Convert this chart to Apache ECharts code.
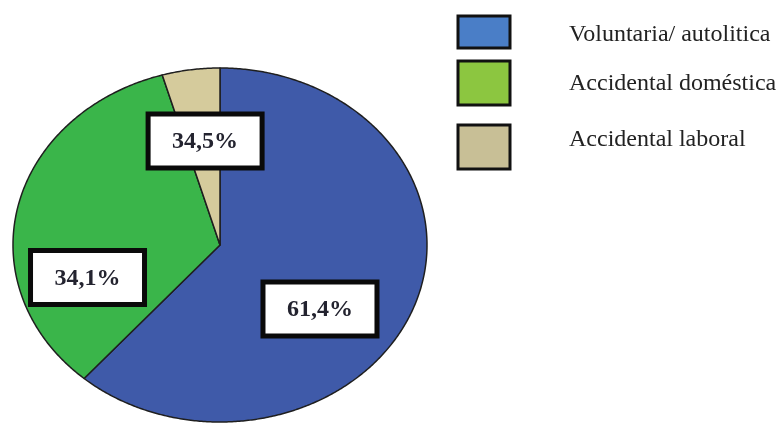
<!DOCTYPE html>
<html><head><meta charset="utf-8">
<script src="https://cdn.jsdelivr.net/npm/echarts@6/dist/echarts.min.js"></script>
<style>html,body{margin:0;padding:0;background:#fff}#c{width:777px;height:423px}</style>
</head><body><div id="c"></div>
<script>
const categories = ['Voluntaria/ autolitica', 'Accidental doméstica', 'Accidental laboral'];
const values = [61.4, 34.1, 4.5];
const labelTexts = ['61,4%', '34,1%', '34,5%'];

const sliceColors = ['#3f5aa9', '#3ab54a', '#d5cb9c'];
const legendColors = ['#4a7ec7', '#8cc640', '#c8bf96'];
// label anchor positions in the pie's unit data space (layout only)
const labelAnchors = [[0.483, -0.362], [-0.640, -0.184], [-0.072, 0.588]];

const total = values.reduce((a, b) => a + b, 0);
const starts = [];
let acc = 0;
values.forEach(v => { starts.push(acc); acc += v; });

function sliceRenderer(i) {
  return function (params, api) {
    const a0 = starts[i] / total * 2 * Math.PI;
    const a1 = (starts[i] + values[i]) / total * 2 * Math.PI;
    const pts = [api.coord([0, 0])];
    const n = Math.max(4, Math.ceil((a1 - a0) / (Math.PI / 360)));
    for (let k = 0; k <= n; k++) {
      const a = a0 + (a1 - a0) * k / n;
      pts.push(api.coord([Math.sin(a), Math.cos(a)]));
    }
    return {
      type: 'polygon',
      shape: { points: pts },
      style: { fill: sliceColors[i], stroke: '#1f1f1f', lineWidth: 1.5, lineJoin: 'round' }
    };
  };
}

const series = categories.map((name, i) => ({
  type: 'custom',
  name: name,
  data: [[0, 0, i]],
  encode: { x: 0, y: 1 },
  z: 2,
  silent: true,
  renderItem: sliceRenderer(i)
}));

series.push({
  type: 'custom',
  name: 'labels',
  data: labelTexts.map((t, i) => [labelAnchors[i][0], labelAnchors[i][1], i]),
  encode: { x: 0, y: 1 },
  z: 10,
  silent: true,
  renderItem: function (params, api) {
    const p = api.coord([api.value(0), api.value(1)]);
    const i = api.value(2);
    const w = 114, h = 54;
    return {
      type: 'group',
      children: [
        { type: 'rect', shape: { x: p[0] - w / 2, y: p[1] - h / 2, width: w, height: h },
          style: { fill: '#ffffff', stroke: '#0a0a0a', lineWidth: 5 } },
        { type: 'text', x: p[0], y: p[1] + 1,
          style: { text: labelTexts[i], font: 'bold 24px "Liberation Serif", serif', fill: '#23232f',
                   align: 'center', verticalAlign: 'middle' } }
      ]
    };
  }
});

const legendTops = [14.5, 59.5, 123.5];
const legendHeights = [32, 44, 44];
const legendTextPads = [[6, 0, 0, 54], [2, 0, 0, 54], [0, 0, 14, 54]];
const legends = categories.map((name, i) => ({
  show: true,
  left: 456.5,
  top: legendTops[i],
  padding: 0,
  orient: 'vertical',
  icon: 'rect',
  itemWidth: 52,
  itemHeight: legendHeights[i],
  selectedMode: false,
  formatter: '{t|{name}}',
  data: [{ name: name, itemStyle: { color: legendColors[i], borderColor: '#111', borderWidth: 3 } }],
  textStyle: {
    fontFamily: '"Liberation Serif", serif', fontSize: 24, color: '#222',
    rich: { t: { fontFamily: '"Liberation Serif", serif', fontSize: 24, color: '#222', padding: legendTextPads[i] } }
  }
}));

const chart = echarts.init(document.getElementById('c'), null, { renderer: 'canvas' });
chart.setOption({
  animation: false,
  backgroundColor: '#ffffff',
  grid: { left: 13, top: 68, width: 414, height: 354 },
  xAxis: { type: 'value', min: -1, max: 1, show: false },
  yAxis: { type: 'value', min: -1, max: 1, show: false },
  legend: legends,
  series: series
});
</script></body></html>
